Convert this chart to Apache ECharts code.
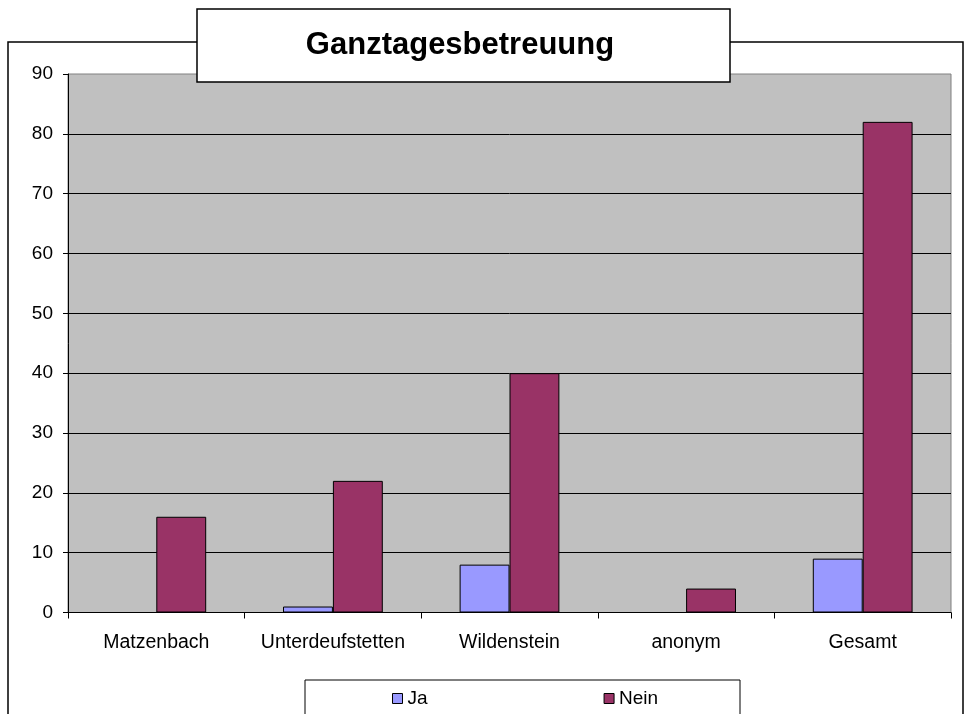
<!DOCTYPE html>
<html>
<head>
<meta charset="utf-8">
<script src="https://cdn.jsdelivr.net/npm/echarts@6/dist/echarts.min.js"></script>
<style>html,body{margin:0;padding:0;background:#fff;}#c{width:970px;height:714px;}</style>
</head>
<body>
<div id="c"></div>
<script>
const categories = ['Matzenbach', 'Unterdeufstetten', 'Wildenstein', 'anonym', 'Gesamt'];
const ja = [0, 1, 8, 0, 9];
const nein = [16, 22, 40, 4, 82];
const seriesNames = ['Ja', 'Nein'];
const titleText = 'Ganztagesbetreuung';

const chart = echarts.init(document.getElementById('c'), null, {renderer: 'canvas'});
const font = '"Liberation Sans", Arial, sans-serif';
chart.setOption({
  animation: false,
  backgroundColor: '#fff',
  textStyle: {fontFamily: font},
  title: {
    text: titleText,
    left: 455, top: 40, textAlign: 'center', textVerticalAlign: 'middle',
    z: 20,
    textStyle: {fontFamily: font, fontWeight: 'bold', fontSize: 31, color: '#000'}
  },
  graphic: [
    {type: 'rect', z: 0, silent: true, shape: {x: 8, y: 42, width: 955, height: 720},
     style: {fill: 'none', stroke: '#000', lineWidth: 1.5}},
    {type: 'rect', z: 10, silent: true, shape: {x: 197, y: 9, width: 533, height: 73},
     style: {fill: '#fff', stroke: '#000', lineWidth: 1.5}},
    {type: 'rect', z: 10, silent: true, shape: {x: 305, y: 680, width: 435, height: 60},
     style: {fill: '#fff', stroke: '#000', lineWidth: 1}}
  ],
  legend: {
    data: seriesNames,
    left: 387, top: 684,
    z: 20,
    itemWidth: 10, itemHeight: 10, itemGap: 176,
    icon: 'rect',
    textStyle: {fontFamily: font, fontSize: 19, color: '#000', padding: [0, 0, 0, 0]},
    itemStyle: {borderColor: '#000', borderWidth: 1}
  },
  grid: {left: 68, right: 19, top: 74, bottom: 101.5, show: true, backgroundColor: '#C0C0C0',
         borderColor: '#808080', borderWidth: 1},
  xAxis: {
    type: 'category',
    data: categories,
    axisLine: {lineStyle: {color: '#000', width: 1}},
    axisTick: {show: true, interval: 0, length: 6, lineStyle: {color: '#000'}},
    axisLabel: {color: '#000', fontSize: 19.5, margin: 20, interval: 0, fontFamily: font}
  },
  yAxis: {
    type: 'value', min: 0, max: 90, interval: 10,
    axisLine: {show: true, lineStyle: {color: '#000', width: 1}},
    axisTick: {show: true, length: 5, lineStyle: {color: '#000'}},
    axisLabel: {color: '#000', fontSize: 19, margin: 15, fontFamily: font},
    splitLine: {show: true, showMaxLine: false, lineStyle: {color: '#000', width: 1}}
  },
  series: [
    {name: seriesNames[0], type: 'bar', data: ja, barGap: '0%', barCategoryGap: '43.5%',
     itemStyle: {color: '#9999FF', borderColor: '#000', borderWidth: 1}},
    {name: seriesNames[1], type: 'bar', data: nein, barGap: '0%', barCategoryGap: '43.5%',
     itemStyle: {color: '#993366', borderColor: '#000', borderWidth: 1}}
  ]
});
</script>
</body>
</html>
